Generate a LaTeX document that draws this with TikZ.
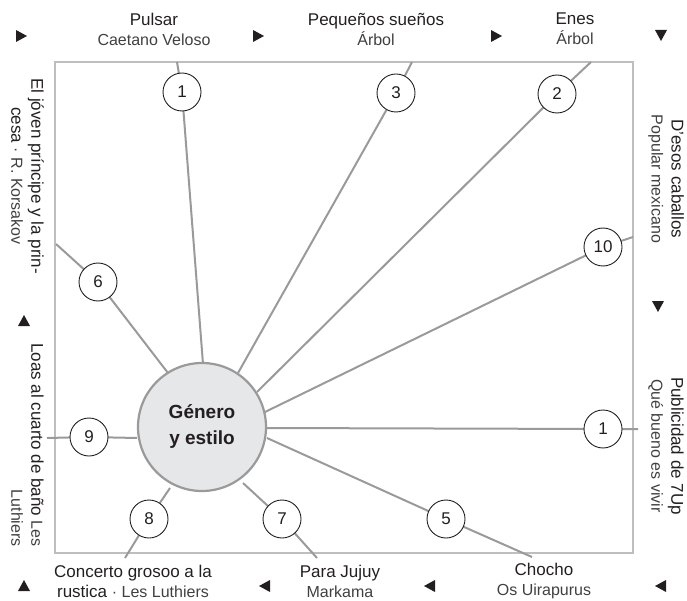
\documentclass[tikz,border=0pt]{standalone}
\usepackage{fontspec}
\setmainfont{Liberation Sans}
\usetikzlibrary{backgrounds}
\definecolor{linegray}{HTML}{9A9A9A}
\definecolor{framegray}{HTML}{BEBEBE}
\definecolor{fillgray}{HTML}{E6E7E8}
\definecolor{ink}{HTML}{231F20}
\definecolor{inklight}{HTML}{404040}
\newcommand\au[1]{{\fontsize{16}{20}\selectfont\color{inklight}#1}}
\begin{document}
\begin{tikzpicture}[x=1pt,y=-1pt,
  spoke/.style={draw=linegray,line width=2pt},
  numc/.style={circle,draw=ink,line width=0.9pt,fill=white,minimum size=38pt,inner sep=0pt,font=\fontsize{17}{17}\selectfont,text=ink},
  hub/.style={circle,draw=linegray,line width=2.2pt,fill=fillgray,minimum size=128pt,inner sep=0pt,align=center,font=\bfseries\fontsize{19}{26}\selectfont,text=ink},
  lab/.style={align=center,inner sep=0pt,text=ink,font=\fontsize{17}{20}\selectfont},
  tri/.style={fill=ink}
]
\useasboundingbox (0,0) rectangle (687,601);

% hub and numbered circles
\node[hub] (G) at (202,427) {Género\\y estilo};
\node[numc] (n1) at (182,92) {1};
\node[numc] (n3) at (396,93) {3};
\node[numc] (n2) at (557,94) {2};
\node[numc] (n10) at (603,247) {10};
\node[numc] (n1b) at (603,429) {1};
\node[numc] (n5) at (446,519) {5};
\node[numc] (n7) at (282,519) {7};
\node[numc] (n8) at (149,519) {8};
\node[numc] (n9) at (89,437) {9};
\node[numc] (n6) at (98,282) {6};

% free ends of connectors
\coordinate (o1) at (177,62);  \coordinate (i1) at (203,364);
\coordinate (o3) at (412,62);  \coordinate (i3) at (238,373);
\coordinate (o2) at (591,62);  \coordinate (i2) at (257,392);
\coordinate (o10) at (633,237); \coordinate (i10) at (265,412);
\coordinate (o1b) at (638,429); \coordinate (i1b) at (266,428);
\coordinate (o5) at (532,557); \coordinate (i5) at (267,438);
\coordinate (o7) at (317,558); \coordinate (i7) at (243,483);
\coordinate (o8) at (125,558); \coordinate (i8) at (170,488);
\coordinate (o9) at (47,438);  \coordinate (i9) at (137,438);
\coordinate (o6) at (56,244);  \coordinate (i6) at (168,373);

\begin{scope}[on background layer]
\draw[framegray,line width=1.5pt] (55,62) rectangle (633,553);
\draw[spoke] (o1) -- (n1.center) -- (i1);
\draw[spoke] (o3) -- (n3.center) -- (i3);
\draw[spoke] (o2) -- (n2.center) -- (i2);
\draw[spoke] (o10) -- (n10.center) -- (i10);
\draw[spoke] (o1b) -- (n1b.center) -- (i1b);
\draw[spoke] (o5) -- (n5.center) -- (i5);
\draw[spoke] (o7) -- (n7.center) -- (i7);
\draw[spoke] (o8) -- (n8.center) -- (i8);
\draw[spoke] (o9) -- (n9.center) -- (i9);
\draw[spoke] (o6) -- (n6.center) -- (i6);
\end{scope}

% labels top
\node[lab] (t1) at (154,29) {Pulsar\\\au{Caetano Veloso}};
\node[lab] (t2) at (376,29) {Pequeños sueños\\\au{Árbol}};
\node[lab] (t3) at (575,29) {Enes\\\au{Árbol}};
% labels bottom
\node[lab] (b1) at (133,581) {Concerto grosoo a la\\rustica \au{· Les Luthiers}};
\node[lab] (b2) at (340,581) {Para Jujuy\\\au{Markama}};
\node[lab] (b3) at (544,581) {Chocho\\\au{Os Uirapurus}};
% labels left
\node[lab,rotate=-90] (l1) at (27.5,176) {El jóven príncipe y la prin-\\cesa \au{· R. Korsakov}};
\node[lab,rotate=-90,anchor=west,align=right] (l2) at (27.5,343) {Loas al cuarto de baño \au{Les}\\\au{Luthiers}};
% labels right
\node[lab,rotate=-90] (r1) at (666,179) {D'esos caballos\\\au{Popular mexicano}};
\node[lab,rotate=-90] (r2) at (666,446) {Publicidad de 7Up\\\au{Qué bueno es vivir}};

% arrow triangles
\fill[tri] (16,30) -- (27,36) -- (16,42) -- cycle;
\fill[tri] (253,30) -- (264,36) -- (253,42) -- cycle;
\fill[tri] (491,30) -- (502,36) -- (491,42) -- cycle;
\fill[tri] (655,30) -- (667,30) -- (661,41) -- cycle;
\fill[tri] (652,301) -- (664,301) -- (658,312) -- cycle;
\fill[tri] (18,326) -- (30,326) -- (24,315) -- cycle;
\fill[tri] (18,591) -- (30,591) -- (24,580) -- cycle;
\fill[tri] (270,580) -- (270,592) -- (259,586) -- cycle;
\fill[tri] (435,580) -- (435,592) -- (424,586) -- cycle;
\fill[tri] (666,580) -- (666,592) -- (655,586) -- cycle;
\end{tikzpicture}
\end{document}
